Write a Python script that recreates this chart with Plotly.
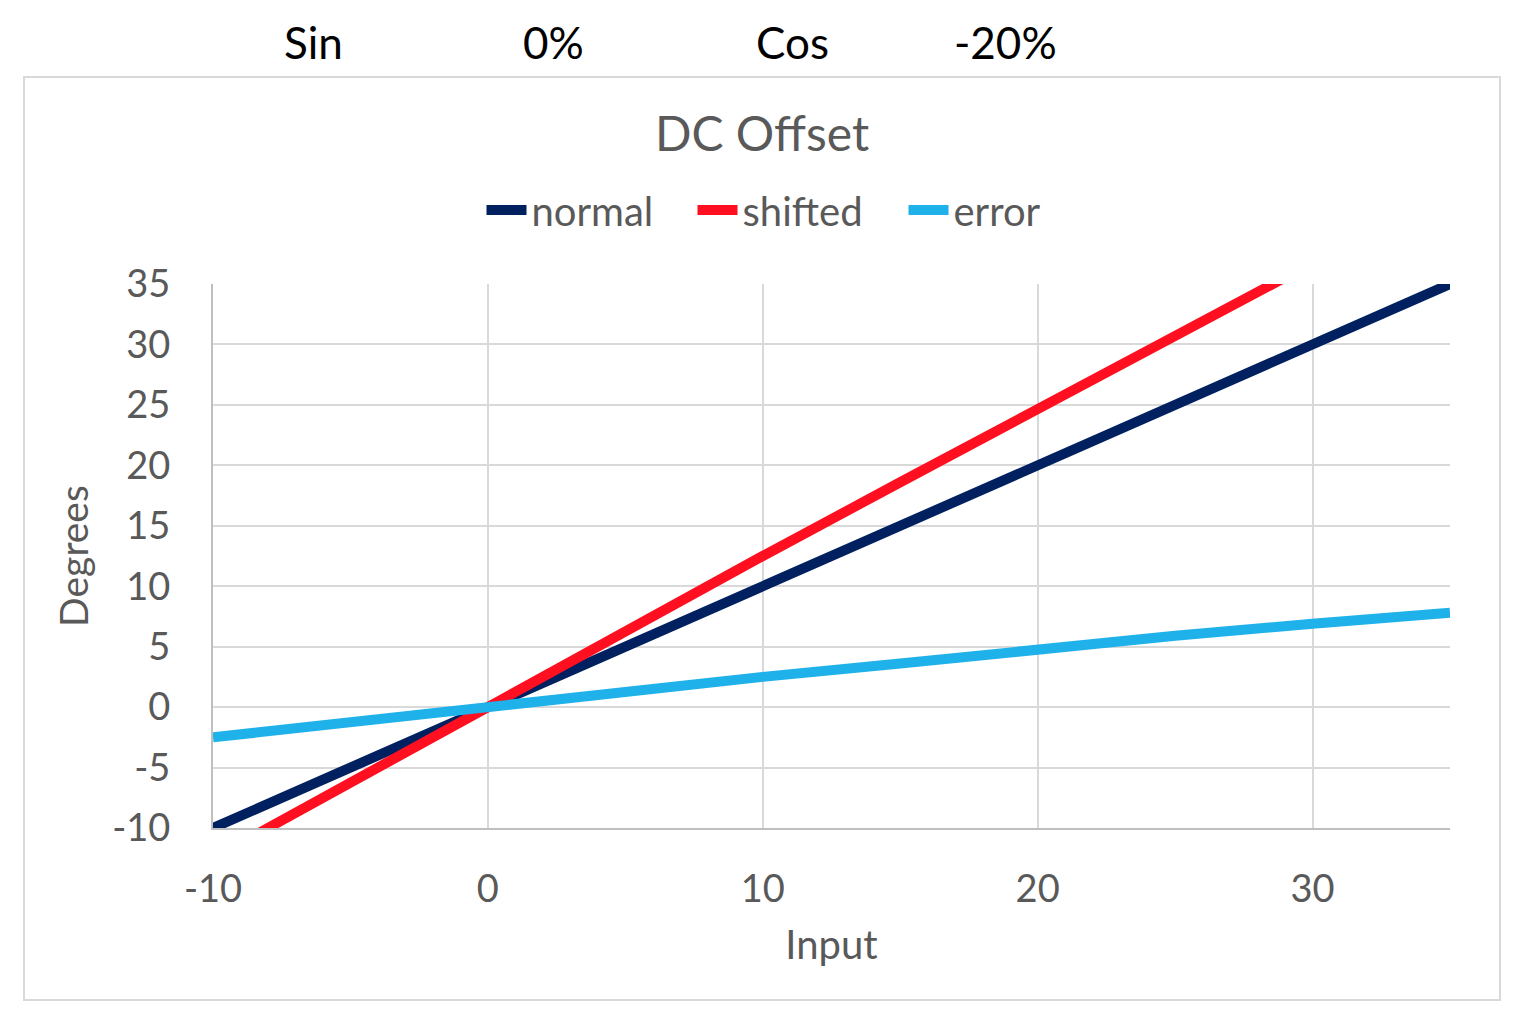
import plotly.graph_objects as go

# Data
x_input = [-10, -5, 0, 5, 10, 15, 20, 25, 30, 35]
normal = [-10, -5, 0, 5, 10, 15, 20, 25, 30, 35]
shifted = [-12.5, -6.2, 0, 6.2, 12.5, 18.6, 24.8, 30.9, 36.9, 42.8]
error = [-2.5, -1.2, 0, 1.2, 2.5, 3.6, 4.8, 5.9, 6.9, 7.8]

x_tickvals = [-10, 0, 10, 20, 30]
x_ticktext = ["-10", "0", "10", "20", "30"]
y_tickvals = [-10, -5, 0, 5, 10, 15, 20, 25, 30, 35]
y_ticktext = ["-10", "-5", "0", "5", "10", "15", "20", "25", "30", "35"]

header_labels = ["Sin", "0%", "Cos", "-20%"]
header_px = [313, 553, 792, 1006]

FONT = "Lato"
GREY = "#595959"

# page has an 8px body margin; work in reference-pixel coordinates
OFF = 8
W, H = 1522 - OFF, 1020 - OFF
L = 213 - OFF
T = 284 - OFF
R = W - (1450 - OFF)
B = H - (828 - OFF)
pw = W - L - R
ph = H - T - B


def px_to_paper_x(px):
    return (px - OFF - L) / pw


def py_to_paper_y(py):
    return (H - B - (py - OFF)) / ph


fig = go.Figure()
fig.add_trace(go.Scatter(x=x_input, y=normal, mode="lines", name="normal",
                         line=dict(color="#002060", width=10)))
fig.add_trace(go.Scatter(x=x_input, y=shifted, mode="lines", name="shifted",
                         line=dict(color="#FF0F1F", width=10)))
fig.add_trace(go.Scatter(x=x_input, y=error, mode="lines", name="error",
                         line=dict(color="#1FB1EA", width=10)))

annotations = []
for lab, p in zip(header_labels, header_px):
    annotations.append(dict(text=lab, x=px_to_paper_x(p), y=py_to_paper_y(42),
                            xref="paper", yref="paper", showarrow=False,
                            xanchor="center", yanchor="middle",
                            font=dict(family=FONT, size=44, color="black")))
annotations.append(dict(text="DC Offset", x=px_to_paper_x(762), y=py_to_paper_y(132),
                        xref="paper", yref="paper", showarrow=False,
                        xanchor="center", yanchor="middle",
                        font=dict(family=FONT, size=48, color=GREY)))

fig.update_layout(
    width=W, height=H,
    margin=dict(l=L, r=R, t=T, b=B),
    paper_bgcolor="white", plot_bgcolor="white",
    font=dict(family=FONT, size=38, color=GREY),
    showlegend=True,
    legend=dict(orientation="h", x=px_to_paper_x(798), xanchor="center",
                y=py_to_paper_y(210), yanchor="middle",
                font=dict(family=FONT, size=40, color=GREY),
                entrywidth=156, entrywidthmode="pixels",
                itemwidth=40, tracegroupgap=0, bgcolor="rgba(0,0,0,0)"),
    annotations=annotations,
    shapes=[dict(type="rect", xref="paper", yref="paper",
                 x0=px_to_paper_x(24), x1=px_to_paper_x(1500),
                 y0=py_to_paper_y(1000), y1=py_to_paper_y(77),
                 line=dict(color="#D9D9D9", width=2), layer="below")],
)

fig.update_xaxes(range=[-10, 35], tickvals=x_tickvals, ticktext=x_ticktext,
                 showgrid=True, gridcolor="#D9D9D9", gridwidth=2,
                 zeroline=False, showline=True, linecolor="#BFBFBF", linewidth=2,
                 ticks="", ticklabelstandoff=26,
                 tickfont=dict(family=FONT, size=38, color=GREY),
                 title=dict(text="Input", standoff=22,
                            font=dict(family=FONT, size=40, color=GREY)))
fig.update_yaxes(range=[-10, 35], tickvals=y_tickvals, ticktext=y_ticktext,
                 showgrid=True, gridcolor="#D9D9D9", gridwidth=2,
                 zeroline=False, showline=True, linecolor="#BFBFBF", linewidth=2,
                 ticks="", ticklabelstandoff=33,
                 tickfont=dict(family=FONT, size=38, color=GREY),
                 title=dict(text="Degrees", standoff=12,
                            font=dict(family=FONT, size=39, color=GREY)))

fig.write_html("out.html")
